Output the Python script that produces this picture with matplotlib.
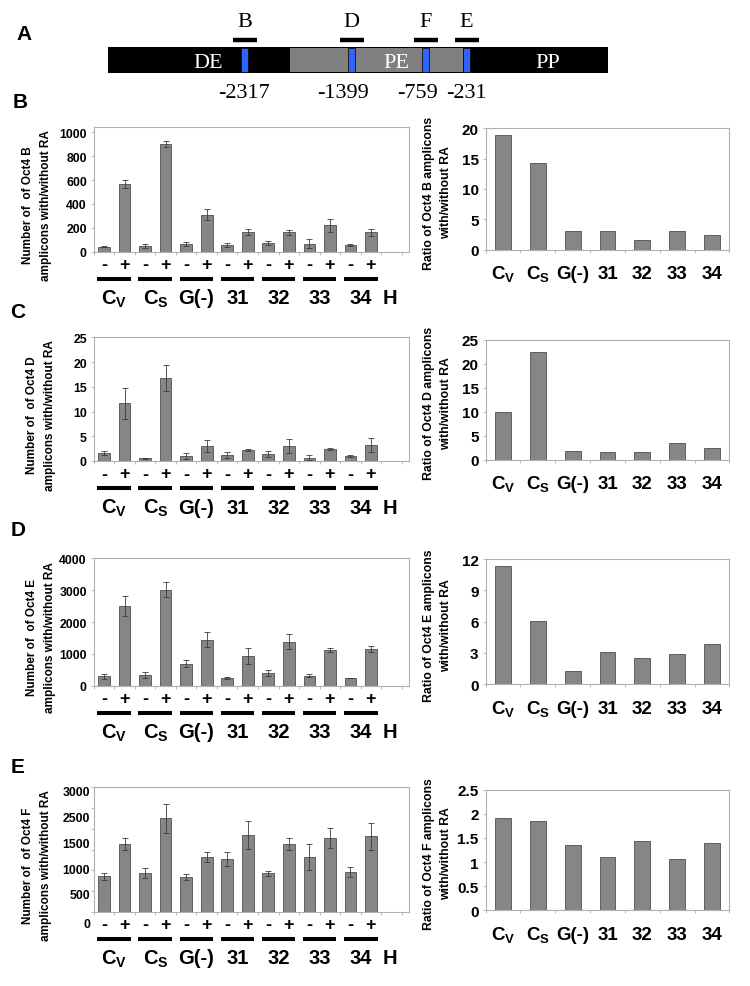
import numpy as np
import matplotlib
matplotlib.use('Agg')
import matplotlib.pyplot as plt
from matplotlib import transforms as mtrans
from matplotlib.patches import Rectangle

plt.rcParams['font.family'] = ['Liberation Sans', 'DejaVu Sans']
plt.rcParams['font.weight'] = 'bold'
plt.rcParams['mathtext.fontset'] = 'custom'
plt.rcParams['mathtext.rm'] = 'Liberation Sans:bold'
plt.rcParams['mathtext.it'] = 'Liberation Sans:bold'
plt.rcParams['mathtext.bf'] = 'Liberation Sans:bold'

# ---------------- data ----------------
groups = [r'$\mathrm{C_V}$', r'$\mathrm{C_S}$', 'G(-)', '31', '32', '33', '34']
signs = ['-', '+']
extra_group = 'H'

# Panel A schematic (positions along the schematic bar, 0-100)
site_names = ['B', 'D', 'F', 'E']
site_pos = [27.3, 48.7, 63.5, 71.7]
site_coords = ['-2317', '-1399', '-759', '-231']
coord_label_pos = [27.2, 46.9, 62.0, 71.6]
region_names = ['DE', 'PE', 'PP']
region_label_pos = [20.1, 57.6, 88.0]
pe_span = [36.4, 71.0]

# Panel B (Oct4 B amplicon)
b_minus = [42, 47, 64, 53, 73, 67, 53]
b_plus = [564, 899, 310, 165, 162, 221, 162]
b_minus_err = [4, 14, 20, 17, 16, 36, 8]
b_plus_err = [34, 26, 48, 25, 22, 53, 28]
b_ratio = [18.9, 14.3, 3.0, 3.0, 1.6, 3.1, 2.4]

# Panel C (Oct4 D amplicon)
c_minus = [1.55, 0.54, 1.0, 1.2, 1.4, 0.67, 1.0]
c_plus = [11.66, 16.8, 3.1, 2.22, 2.96, 2.36, 3.23]
c_minus_err = [0.4, 0.1, 0.55, 0.55, 0.55, 0.48, 0.28]
c_plus_err = [3.1, 2.6, 1.2, 0.14, 1.44, 0.2, 1.37]
c_ratio = [10.0, 22.56, 1.88, 1.6, 1.6, 3.4, 2.37]

# Panel D (Oct4 E amplicon)
d_minus = [293, 325, 691, 230, 398, 314, 241]
d_plus = [2503, 3016, 1445, 932, 1382, 1120, 1152]
d_minus_err = [84, 94, 105, 32, 84, 52, 10]
d_plus_err = [303, 230, 230, 241, 231, 53, 94]
d_ratio = [11.3, 6.08, 1.31, 3.14, 2.5, 2.94, 3.87]

# Panel E (Oct4 F amplicon)
e_minus = [853, 933, 828, 1279, 925, 1311, 957]
e_plus = [1633, 2252, 1319, 1850, 1633, 1785, 1818]
e_minus_err = [80, 113, 73, 169, 56, 314, 113]
e_plus_err = [136, 346, 113, 330, 136, 242, 322]
e_ratio = [1.906, 1.844, 1.347, 1.098, 1.436, 1.07, 1.40]
e_ytick_text = ['3000', '2500', '1500', '1000', '500', '0']
e_ytick_at = [2887, 2260, 1633, 1006, 403, -296]

# ---------------- style ----------------
W, H = 750, 987
BAR = '#868686'
EDGE = '#4f4f4f'
ERR = '#3a3a3a'
SPINE = '#b0b0b0'

fig = plt.figure(figsize=(W / 100, H / 100), dpi=100)


def add_px(x0, y0, x1, y1):
    return fig.add_axes([x0 / W, 1 - y1 / H, (x1 - x0) / W, (y1 - y0) / H])


def below(ax, dy):
    return mtrans.offset_copy(ax.get_xaxis_transform(), fig=fig, y=-dy, units='dots')


def style_axes(ax):
    for s in ax.spines.values():
        s.set_color(SPINE)
        s.set_linewidth(0.8)
    ax.tick_params(axis='y', direction='out', length=2.5, width=0.6, color=SPINE, pad=2.5)
    ax.tick_params(axis='x', which='major', length=0)
    ax.tick_params(axis='x', which='minor', direction='out', length=2.5, width=0.6, color=SPINE)
    ax.set_axisbelow(True)


def left_panel(box, minus, plus, merr, perr, ylim, yticks, ylabel, ylab_x,
               ytick_text=None, ytick_at=None):
    ax = add_px(*box)
    n = len(minus)
    vals = np.ravel(np.column_stack([minus, plus]))
    errs = np.ravel(np.column_stack([merr, perr]))
    x = np.arange(2 * n)
    ax.bar(x, vals, width=0.57, color=BAR, edgecolor=EDGE, linewidth=0.6, zorder=2)
    ax.errorbar(x, vals, yerr=errs, fmt='none', ecolor=ERR, elinewidth=0.6,
                capsize=2, capthick=0.6, zorder=3)
    ax.set_xlim(-0.5, 2 * n + 0.85)
    ax.set_ylim(*ylim)
    style_axes(ax)
    ax.set_xticks(x)
    ax.set_xticklabels([])
    ax.set_xticks(np.arange(-0.5, 2 * n + 0.6, 1), minor=True)
    ax.set_yticks(yticks)
    if ytick_text is None:
        ax.set_yticklabels([f'{v:g}' for v in yticks], fontsize=8.8, fontweight='bold')
    else:
        ax.set_yticklabels([])
        for t, v in zip(ytick_text, ytick_at):
            ax.text(-0.012, v, t, transform=ax.get_yaxis_transform(), ha='right',
                    va='center', fontsize=8.8, fontweight='bold', clip_on=False)
    for i in x:
        ax.text(i, 0, signs[i % 2], transform=below(ax, 17.5), ha='center',
                va='baseline', fontsize=13, fontweight='bold')
    for g in range(n):
        c = 2 * g + 0.5
        ax.plot([c - 0.82, c + 0.82], [0, 0], transform=below(ax, 27), color='black',
                lw=2.9, solid_capstyle='butt', clip_on=False)
        ax.text(c, 0, groups[g], transform=below(ax, 51.6), ha='center',
                va='baseline', fontsize=14.5, fontweight='bold')
    ax.text(2 * n - 0.1, 0, extra_group, transform=below(ax, 51.6), ha='center',
            va='baseline', fontsize=14.5, fontweight='bold')
    yc = (box[1] + box[3]) / 2 + 15
    fig.text(ylab_x / W, 1 - yc / H, ylabel, rotation=90, ha='center', va='center',
             multialignment='center', linespacing=1.65, fontsize=8.5, fontweight='bold')
    return ax


def right_panel(box, ratio, ylim, yticks, yticklabels, ylabel):
    ax = add_px(*box)
    x = np.arange(len(ratio))
    ax.bar(x, ratio, width=0.45, color=BAR, edgecolor=EDGE, linewidth=0.6, zorder=2)
    ax.set_xlim(-0.5, len(ratio) - 0.5)
    ax.set_ylim(*ylim)
    style_axes(ax)
    ax.set_xticks(x)
    ax.set_xticklabels([])
    ax.set_xticks(np.arange(-0.5, len(ratio), 1), minor=True)
    ax.set_yticks(yticks)
    ax.set_yticklabels(yticklabels, fontsize=11, fontweight='bold')
    for i, g in enumerate(groups):
        ax.text(i, 0, g, transform=below(ax, 28.6), ha='center', va='baseline',
                fontsize=13.5, fontweight='bold')
    yc = (box[1] + box[3]) / 2 + 3
    fig.text(437.5 / W, 1 - yc / H, ylabel, rotation=90, ha='center', va='center',
             multialignment='center', linespacing=1.6, fontsize=8.8, fontweight='bold')
    return ax


# ---------------- panel A ----------------
pa = add_px(108, 0, 608, 110)
pa.set_xlim(0, 100)
pa.set_ylim(110, 0)
pa.axis('off')
pa.add_patch(Rectangle((0, 48.3), 100, 26.0, facecolor='black', edgecolor='none'))
pa.add_patch(Rectangle((pe_span[0], 49.3), pe_span[1] - pe_span[0], 24.0,
                       facecolor='#808080', edgecolor='none'))
for p in site_pos:
    pa.add_patch(Rectangle((p - 0.7, 49.3), 1.4, 24.0, facecolor='#2f62ff',
                           edgecolor='#101010', linewidth=0.6))
for name, p in zip(site_names, site_pos):
    pa.plot([p - 2.4, p + 2.4], [41, 41], color='black', lw=3.2, solid_capstyle='butt')
    pa.text(p, 27, name, ha='center', va='baseline', fontsize=16,
            family='Liberation Serif', fontweight='normal')
for lab, p in zip(site_coords, coord_label_pos):
    pa.text(p, 98, lab, ha='center', va='baseline', fontsize=16,
            family='Liberation Serif', fontweight='normal')
for lab, p in zip(region_names, region_label_pos):
    pa.text(p, 68.3, lab, ha='center', va='baseline', fontsize=16, color='white',
            family='Liberation Serif', fontweight='normal')

# panel letters
for lab, (px, py) in zip(['A', 'B', 'C', 'D', 'E'],
                         [(24, 34), (20, 102), (18, 312), (18, 530), (18, 768)]):
    fig.text(px / W, 1 - py / H, lab, ha='center', va='center', fontsize=15,
             fontweight='bold')

# ---------------- panels B-E ----------------
left_panel((93.7, 128.3, 409, 252.7), b_minus, b_plus, b_minus_err, b_plus_err,
           (0, 1042), np.arange(0, 1001, 200),
           'Number of  of Oct4 B\namplicons with/without RA', 37)
right_panel((485.6, 129.3, 729.4, 250.7), b_ratio, (0, 20), np.arange(0, 21, 5),
            ['0', '5', '10', '15', '20'], 'Ratio of Oct4 B amplicons\nwith/without RA')

left_panel((93.7, 338.3, 409, 462), c_minus, c_plus, c_minus_err, c_plus_err,
           (0, 25), np.arange(0, 26, 5),
           'Number of  of Oct4 D\namplicons with/without RA', 41)
right_panel((485.6, 341, 729.4, 460.7), c_ratio, (0, 25), np.arange(0, 26, 5),
            ['0', '5', '10', '15', '20', '25'], 'Ratio of Oct4 D amplicons\nwith/without RA')

left_panel((93.7, 559.3, 409, 686.7), d_minus, d_plus, d_minus_err, d_plus_err,
           (0, 4000), np.arange(0, 4001, 1000),
           'Number of  of Oct4 E\namplicons with/without RA', 41)
right_panel((485.6, 560, 729.4, 685.3), d_ratio, (0, 12), np.arange(0, 13, 3),
            ['0', '3', '6', '9', '12'], 'Ratio of Oct4 E amplicons\nwith/without RA')

left_panel((93.7, 788.3, 409, 912.7), e_minus, e_plus, e_minus_err, e_plus_err,
           (0, 3000), np.arange(0, 3001, 500),
           'Number of  of Oct4 F\namplicons with/without RA', 37,
           ytick_text=e_ytick_text, ytick_at=e_ytick_at)
right_panel((485.6, 790.7, 729.4, 911.3), e_ratio, (0, 2.5), np.arange(0, 2.51, 0.5),
            ['0', '0.5', '1', '1.5', '2', '2.5'], 'Ratio of Oct4 F amplicons\nwith/without RA')

fig.savefig('out.png', dpi=100, facecolor='white')
